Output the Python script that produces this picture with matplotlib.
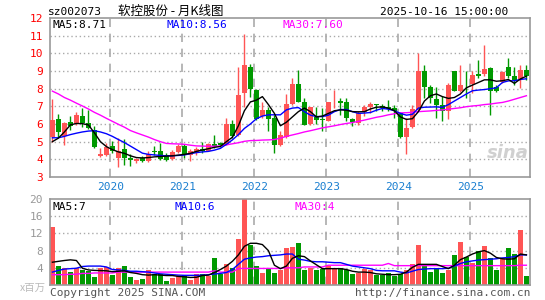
import matplotlib
matplotlib.use("Agg")
import matplotlib.pyplot as plt
import numpy as np
import pandas as pd

# monthly candles, Mar 2019 .. Oct 2025
months = pd.date_range("2019-03-01", periods=80, freq="MS")

opens = [5.26, 6.28, 5.30, 6.10, 6.00, 6.45, 6.03, 5.67, 4.20, 4.24,
         4.75, 4.08, 4.60, 4.08, 3.93, 4.08, 3.92, 4.50, 4.49, 4.22,
         4.04, 4.41, 4.73, 4.22, 4.42, 4.60, 4.49, 4.86, 4.90, 4.83,
         6.00, 5.35, 7.73, 9.21, 7.93, 6.43, 6.79, 6.33, 4.79, 5.24,
         7.12, 8.27, 7.24, 6.00, 6.41, 6.30, 6.18, 7.28, 7.28, 7.27,
         6.28, 6.05, 6.67, 6.94, 7.14, 7.01, 6.97, 6.90, 6.62, 5.26,
         5.81, 6.80, 9.00, 8.07, 7.40, 7.05, 6.75, 9.00, 7.88, 8.28,
         8.25, 8.82, 8.82, 9.16, 8.07, 8.37, 9.20, 8.72, 8.55, 9.06]
closes = [6.24, 5.52, 6.05, 5.90, 6.52, 6.03, 5.78, 4.69, 4.28, 4.71,
          4.45, 4.50, 4.10, 3.97, 4.04, 3.92, 4.30, 4.42, 4.02, 3.98,
          4.41, 4.73, 4.22, 4.49, 4.58, 4.45, 4.86, 4.76, 4.80, 6.00,
          5.30, 7.64, 9.33, 7.96, 6.28, 6.80, 6.30, 4.83, 5.35, 7.12,
          8.25, 7.27, 5.96, 6.94, 6.24, 6.20, 7.24, 7.32, 7.18, 6.33,
          6.11, 6.62, 6.94, 7.12, 7.08, 6.90, 6.86, 6.71, 5.24, 5.77,
          6.86, 9.00, 8.07, 7.46, 7.05, 6.75, 8.22, 7.88, 8.22, 8.24,
          8.78, 8.74, 9.12, 7.88, 7.88, 8.93, 8.69, 8.50, 9.06, 8.74]
highs = [7.41, 6.58, 6.10, 6.48, 6.67, 6.90, 6.82, 5.90, 4.62, 4.93,
         5.05, 5.22, 5.16, 4.30, 4.10, 4.17, 4.45, 4.77, 4.92, 4.36,
         4.54, 4.88, 4.88, 4.60, 4.68, 4.98, 4.94, 5.35, 5.00, 6.33,
         6.24, 9.22, 11.08, 9.39, 8.00, 7.27, 6.95, 6.52, 5.58, 7.69,
         8.60, 9.03, 7.46, 6.99, 6.99, 6.90, 7.26, 7.93, 7.46, 7.46,
         6.33, 6.71, 7.05, 7.24, 7.15, 7.12, 7.37, 7.05, 6.64, 6.33,
         7.09, 10.00, 9.35, 8.22, 8.08, 7.61, 8.31, 9.02, 9.35, 9.00,
         9.00, 9.63, 10.47, 9.25, 8.22, 9.00, 9.76, 9.20, 9.35, 9.35]
lows = [5.00, 5.24, 4.80, 5.64, 5.95, 5.82, 5.70, 4.62, 4.15, 4.20,
        4.38, 3.58, 3.67, 3.65, 3.80, 3.85, 3.83, 4.26, 3.98, 3.92,
        3.98, 4.36, 4.07, 3.92, 4.26, 4.36, 4.45, 4.64, 4.68, 4.79,
        5.20, 5.30, 6.94, 7.52, 6.22, 6.33, 5.62, 4.36, 4.73, 5.20,
        7.09, 7.23, 5.92, 5.92, 6.00, 5.58, 6.15, 6.90, 6.52, 6.15,
        5.86, 5.92, 6.43, 6.62, 6.71, 6.71, 6.75, 6.33, 5.20, 4.30,
        5.77, 6.75, 7.46, 7.18, 6.33, 6.15, 6.30, 7.84, 7.80, 7.46,
        7.75, 8.59, 8.69, 6.52, 7.80, 8.31, 8.59, 8.22, 8.03, 8.50]

# price moving averages as drawn on the chart
ma5 = [5.00, 5.20, 5.55, 5.95, 6.03, 6.02, 5.95, 5.50, 5.00, 4.72,
       4.55, 4.42, 4.34, 4.20, 4.10, 4.08, 4.10, 4.14, 4.16, 4.18,
       4.20, 4.24, 4.28, 4.34, 4.45, 4.53, 4.60, 4.68, 4.73, 5.00,
       5.25, 5.90, 6.75, 7.25, 7.35, 7.55, 7.10, 6.60, 5.90, 6.10,
       6.40, 6.70, 6.90, 6.70, 6.40, 6.45, 6.60, 6.75, 6.80, 6.78,
       6.70, 6.69, 6.70, 6.85, 6.95, 6.97, 6.90, 6.75, 6.40, 6.26,
       6.30, 6.70, 7.30, 7.60, 7.70, 7.55, 7.45, 7.50, 7.70, 8.05,
       8.20, 8.35, 8.50, 8.50, 8.42, 8.45, 8.52, 8.30, 8.55, 8.71]
ma10 = [5.22, 5.22, 5.30, 5.40, 5.48, 5.55, 5.60, 5.62, 5.55, 5.45,
        5.30, 5.12, 4.95, 4.75, 4.55, 4.35, 4.28, 4.25, 4.22, 4.20,
        4.20, 4.22, 4.25, 4.32, 4.38, 4.42, 4.45, 4.52, 4.62, 4.85,
        5.10, 5.40, 5.75, 6.00, 6.30, 6.45, 6.52, 6.52, 6.52, 6.80,
        6.90, 6.93, 6.70, 6.50, 6.42, 6.42, 6.50, 6.70, 6.82, 6.82,
        6.70, 6.60, 6.62, 6.65, 6.78, 6.88, 6.84, 6.75, 6.60, 6.50,
        6.55, 6.90, 6.95, 6.96, 6.97, 6.94, 7.10, 7.30, 7.50, 7.70,
        7.88, 7.92, 7.95, 8.00, 8.05, 8.35, 8.44, 8.45, 8.52, 8.56]
ma30 = [7.86, 7.70, 7.50, 7.35, 7.18, 7.02, 6.85, 6.66, 6.50, 6.32,
        6.15, 5.98, 5.82, 5.63, 5.50, 5.38, 5.26, 5.12, 5.00, 4.90,
        4.88, 4.87, 4.85, 4.80, 4.76, 4.75, 4.74, 4.74, 4.76, 4.82,
        4.88, 4.94, 5.02, 5.06, 5.07, 5.09, 5.10, 5.12, 5.20, 5.30,
        5.38, 5.46, 5.55, 5.62, 5.70, 5.78, 5.84, 5.90, 5.97, 6.03,
        6.08, 6.15, 6.22, 6.30, 6.38, 6.44, 6.52, 6.58, 6.63, 6.64,
        6.66, 6.70, 6.72, 6.74, 6.77, 6.80, 6.84, 6.88, 6.92, 6.98,
        7.02, 7.05, 7.10, 7.13, 7.18, 7.22, 7.30, 7.40, 7.50, 7.60]

# volume, millions of shares
volume = [13.4, 4.5, 4.0, 3.0, 4.0, 3.4, 3.2, 1.8, 4.0, 4.3,
          2.4, 4.0, 4.5, 1.8, 1.2, 1.4, 3.6, 2.6, 2.6, 1.0,
          1.6, 2.2, 2.4, 1.2, 2.6, 2.6, 2.0, 6.2, 2.6, 5.0,
          4.0, 10.7, 22.0, 9.2, 4.5, 2.8, 4.0, 2.8, 3.6, 8.6,
          8.8, 9.8, 3.4, 4.0, 3.6, 3.8, 4.4, 4.0, 4.0, 3.4,
          2.6, 2.8, 3.8, 3.4, 2.4, 2.4, 2.8, 2.2, 2.6, 3.6,
          4.8, 9.4, 4.4, 3.0, 3.8, 2.8, 3.4, 7.0, 10.1, 6.4,
          5.2, 8.0, 9.1, 6.2, 3.6, 6.0, 8.6, 7.2, 12.7, 2.1]
vol_ma5 = [5.3, 5.5, 5.7, 5.85, 5.7, 3.9, 3.5, 3.4, 3.35, 3.3,
           3.1, 3.2, 3.3, 2.9, 2.7, 2.4, 2.3, 2.4, 2.3, 2.2,
           2.2, 2.0, 1.9, 1.75, 1.8, 2.2, 2.3, 2.9, 3.6, 4.4,
           5.5, 7.0, 9.0, 9.7, 9.7, 9.4, 8.0, 4.6, 3.8, 4.4,
           6.2, 6.8, 6.6, 5.6, 4.7, 3.8, 3.8, 3.8, 3.8, 3.6,
           3.2, 3.0, 3.0, 2.9, 2.6, 2.5, 2.4, 2.4, 2.5, 3.0,
           4.1, 4.8, 4.8, 4.8, 4.8, 4.3, 3.8, 4.6, 5.9, 6.5,
           7.2, 7.7, 8.0, 7.4, 6.4, 6.1, 6.0, 6.1, 7.2, 7.0]
vol_ma10 = [3.0, 3.4, 3.7, 3.8, 3.9, 4.3, 4.4, 4.4, 4.4, 4.2,
            3.6, 3.5, 3.4, 3.2, 3.2, 3.1, 3.0, 2.8, 2.6, 2.5,
            2.4, 2.3, 2.25, 2.25, 2.25, 2.3, 2.4, 2.55, 2.7, 2.9,
            3.6, 4.8, 6.0, 6.3, 6.5, 6.6, 6.8, 6.9, 7.0, 7.2,
            7.2, 6.0, 5.8, 5.5, 5.4, 5.4, 5.3, 5.2, 5.2, 4.8,
            4.4, 4.2, 4.0, 3.8, 3.4, 3.3, 3.3, 3.3, 3.0, 2.8,
            3.2, 3.6, 3.7, 3.8, 3.8, 3.8, 3.9, 4.4, 5.0, 5.4,
            5.6, 5.8, 5.9, 6.0, 6.1, 6.3, 6.4, 6.6, 7.0, 7.0]
vol_ma30 = [2.4, 2.4, 2.4, 2.5, 2.5, 2.7, 2.7, 2.8, 2.8, 2.8,
            2.8, 3.0, 3.0, 3.0, 3.0, 3.0, 3.0, 3.0, 3.0, 3.0,
            3.0, 3.0, 3.0, 3.0, 3.0, 3.0, 3.0, 3.3, 3.0, 3.0,
            3.0, 3.85, 3.85, 3.85, 3.85, 3.85, 3.85, 3.85, 3.85, 4.0,
            4.0, 4.0, 4.2, 4.2, 4.2, 4.2, 4.6, 4.6, 4.6, 4.6,
            4.6, 4.6, 4.6, 4.6, 4.6, 4.6, 5.0, 4.5, 4.5, 4.5,
            4.5, 4.5, 4.5, 4.5, 4.5, 4.5, 4.5, 4.5, 4.5, 4.5,
            4.5, 4.5, 4.5, 4.5, 4.5, 4.5, 4.5, 4.5, 4.6, 4.6]

RED = "#ff5555"
GREEN = "#009900"
MONO = "DejaVu Sans Mono"
CJK = ["Noto Sans CJK SC", "DejaVu Sans"]

x = np.arange(len(months))
opens_a, closes_a = np.array(opens), np.array(closes)
up = closes_a >= opens_a
colors = np.where(up, RED, GREEN)
year_pos = [i - 0.35 for i, m in enumerate(months) if m.month == 1]
year_lbl = [str(m.year) for m in months if m.month == 1]

fig = plt.figure(figsize=(5.45, 3.0), dpi=100)
ax = fig.add_axes([50 / 545, 123 / 300, 480 / 545, 159 / 300])
axv = fig.add_axes([50 / 545, 15 / 300, 480 / 545, 86 / 300])

for a in (ax, axv):
    a.set_xlim(-0.4, 79.6)
    for s in a.spines.values():
        s.set_color("#999999")
        s.set_linewidth(1.2)
    a.set_xticks([])
    for xp in year_pos:
        a.axvline(xp, color="#aaaaaa", lw=1.2, ls=(0, (5, 4)), zorder=0)

# price panel
ax.set_ylim(3, 12)
ax.set_yticks(range(3, 13))
ax.tick_params(axis="y", length=0, labelcolor="red", labelsize=8, pad=5)
for lab in ax.get_yticklabels():
    lab.set_family(MONO)
for yv in range(4, 12):
    ax.axhline(yv, color="#aaaaaa", lw=1.0, ls=(0, (1, 2)), zorder=0)

ax.vlines(x, lows, highs, colors=colors, lw=1.0, zorder=2)
body_h = np.abs(closes_a - opens_a)
body_h = np.where(body_h < 0.04, 0.04, body_h)
ax.bar(x, body_h, bottom=np.minimum(opens_a, closes_a), width=0.8,
       color=colors, zorder=3)
ax.plot(x, ma30, color="#ff00ff", lw=1.0, zorder=4)
ax.plot(x, ma10, color="#0000ff", lw=1.0, zorder=4)
ax.plot(x, ma5, color="black", lw=1.0, zorder=4)

ax.text(0.006, 0.985, "MA5:8.71", transform=ax.transAxes, family=MONO,
        fontsize=8, color="black", va="top")
ax.text(0.243, 0.985, "MA10:8.56", transform=ax.transAxes, family=MONO,
        fontsize=8, color="#0000ff", va="top")
ax.text(0.485, 0.985, "MA30:7.60", transform=ax.transAxes, family=MONO,
        fontsize=8, color="#ff00ff", va="top")
ax.text(0.997, 0.15, "sina", transform=ax.transAxes, fontsize=13,
        style="italic", weight="bold", color="#d0d0d0", ha="right",
        va="center", zorder=1)

# volume panel
axv.set_ylim(0, 20)
axv.set_yticks([4, 8, 12, 16, 20])
axv.tick_params(axis="y", length=0, labelcolor="#999999", labelsize=8, pad=5)
for lab in axv.get_yticklabels():
    lab.set_family(MONO)
for yv in (4, 8, 12, 16):
    axv.axhline(yv, color="#aaaaaa", lw=1.0, ls=(0, (1, 2)), zorder=0)
axv.bar(x, volume, width=0.83, color=colors, zorder=2)
axv.plot(x, vol_ma30, color="#ff00ff", lw=1.0, zorder=3)
axv.plot(x, vol_ma10, color="#0000ff", lw=1.0, zorder=3)
axv.plot(x, vol_ma5, color="black", lw=1.0, zorder=3)

axv.text(0.006, 0.97, "MA5:7", transform=axv.transAxes, family=MONO,
         fontsize=8, color="black", va="top")
axv.text(0.26, 0.97, "MA10:6", transform=axv.transAxes, family=MONO,
         fontsize=8, color="#0000ff", va="top")
axv.text(0.51, 0.97, "MA30:4", transform=axv.transAxes, family=MONO,
         fontsize=8, color="#ff00ff", va="top")

# year labels between panels
for xp, lbl in zip(year_pos, year_lbl):
    ax.text(xp, -0.06, lbl, transform=ax.get_xaxis_transform(), ha="center",
            va="center", family=MONO, fontsize=8, color="#1a7fd0")

# header and footer
fig.text(48 / 545, 1 - 12 / 300, "sz002073", family=MONO, fontsize=8,
         va="center", ha="left")
fig.text(171 / 545, 1 - 11 / 300, "软控股份 - 月K线图", family=CJK,
         fontsize=9, va="center", ha="center")
fig.text(508 / 545, 1 - 12 / 300, "2025-10-16 15:00:00", family=MONO,
         fontsize=8, va="center", ha="right")
fig.text(46 / 545, 1 - 288 / 300, "x百万", family=CJK, fontsize=7.5,
         color="#bbbbbb", va="center", ha="right")
fig.text(50 / 545, 1 - 293 / 300, "Copyright 2025 SINA.COM", family=MONO,
         fontsize=8, color="#555555", va="center", ha="left")
fig.text(530 / 545, 1 - 293 / 300, "http://finance.sina.com.cn", family=MONO,
         fontsize=8, color="#555555", va="center", ha="right")

fig.savefig("out.png", dpi=100, facecolor="white")
plt.close(fig)
